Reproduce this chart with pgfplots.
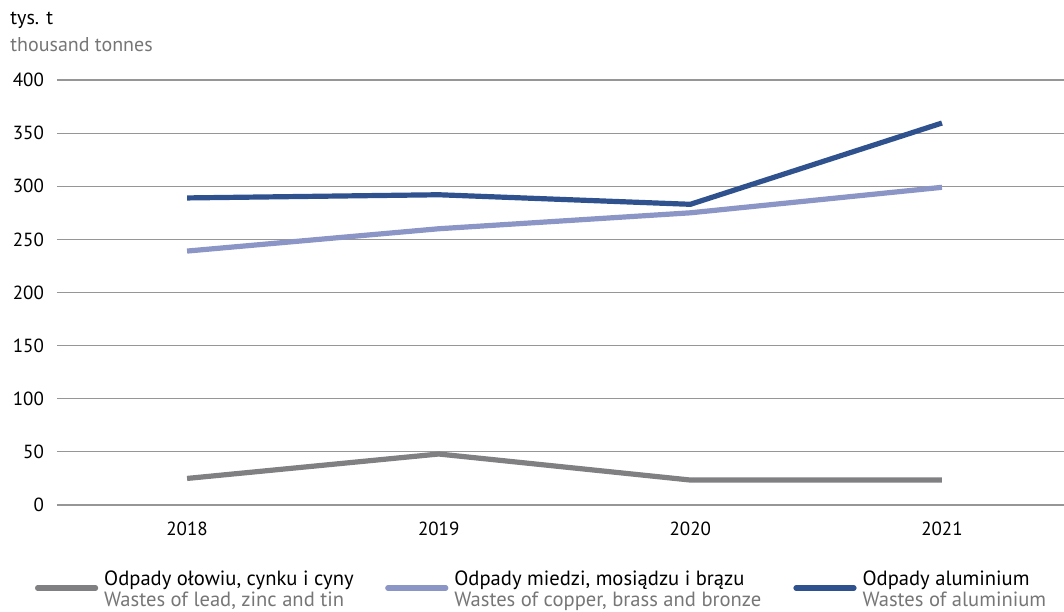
\documentclass[border=0pt]{standalone}
\usepackage{pgfplots}
\pgfplotsset{compat=1.18}
\usepackage{fontspec}
\setmainfont{PT Sans}
\usetikzlibrary{calc}

\definecolor{alu}{RGB}{47,82,143}
\definecolor{copper}{RGB}{140,150,198}
\definecolor{lead}{RGB}{128,128,130}
\definecolor{txtgray}{RGB}{118,118,118}
\definecolor{gridgray}{RGB}{150,150,150}

\newcommand{\entry}[3]{\makebox[#1][l]{\begin{tabular}{@{}l@{}}#2\\[-1pt]\textcolor{txtgray}{#3}\end{tabular}}}

\begin{document}
\begin{tikzpicture}
\begin{axis}[
    name=ax,
    scale only axis,
    width=503.5pt, height=212.5pt,
    xmin=-0.517, xmax=3.485,
    ymin=0, ymax=400,
    xtick={0,1,2,3},
    xticklabels={2018,2019,2020,2021},
    ytick={0,50,...,400},
    axis line style={draw=none},
    major tick length=0pt,
    ymajorgrids,
    grid style={gridgray, line width=0.55pt},
    tick label style={font=\fontsize{9.5}{11}\selectfont},
    yticklabel style={xshift=-3pt},
    xticklabel style={yshift=-5pt},
    /pgf/number format/assume math mode=true,
    legend columns=3,
    legend style={
        at={($(rel axis cs:0,0)+(-11pt,-39.5pt)$)}, anchor=west,
        draw=none, fill=none,
        font=\fontsize{10.3}{11.5}\selectfont,
        inner sep=0pt, outer sep=0pt,
        nodes={inner sep=0pt},
        /tikz/every odd column/.append style={column sep=3pt},
    },
    legend cell align=left,
    legend image code/.code={\draw[#1, line cap=round] (0pt,-2pt) -- (29pt,-2pt);},
]
\addplot[lead, line width=2.6pt] coordinates {(0,25) (1,48) (2,23.5) (3,23.5)};
\addlegendentry{\entry{140.5pt}{Odpady ołowiu, cynku i cyny}{Wastes of lead, zinc and tin}}
\addplot[copper, line width=2.6pt] coordinates {(0,239) (1,260) (2,275) (3,299)};
\addlegendentry{\entry{169.5pt}{Odpady miedzi, mosiądzu i brązu}{Wastes of copper, brass and bronze}}
\addplot[alu, line width=2.6pt] coordinates {(0,289) (1,292) (2,283) (3,359.5)};
\addlegendentry{\entry{95pt}{Odpady aluminium}{Wastes of aluminium}}
\end{axis}
\node[anchor=base west, font=\fontsize{10}{12}\selectfont, inner sep=0pt]
    at ($(ax.north west)+(-23.5pt,27.5pt)$) {tys. t};
\node[anchor=base west, font=\fontsize{10}{12}\selectfont, text=txtgray, inner sep=0pt]
    at ($(ax.north west)+(-23.5pt,14pt)$) {thousand tonnes};
\pgfresetboundingbox
\path[use as bounding box] ($(ax.south west)+(-28.5pt,-53pt)$) rectangle ($(ax.north east)+(0pt,40pt)$);
\end{tikzpicture}
\end{document}
